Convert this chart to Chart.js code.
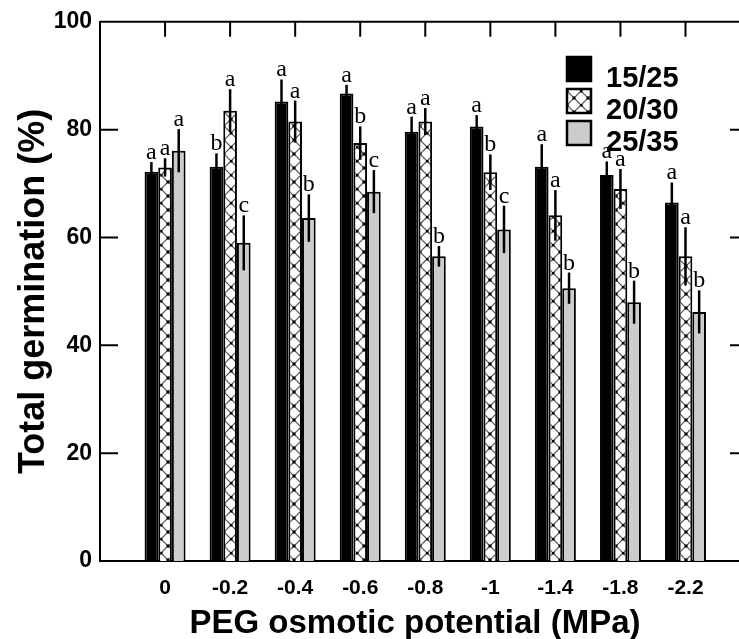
<!DOCTYPE html>
<html>
<head>
<meta charset="utf-8">
<script src="https://cdn.jsdelivr.net/npm/chart.js@4"></script>
<style>
  html, body { margin: 0; padding: 0; background: #fff; overflow: hidden; }
  #wrap { width: 739px; height: 639px; overflow: hidden; }
</style>
</head>
<body>
<div id="wrap"><canvas id="c" width="750" height="639"></canvas></div>
<script>
// PEG osmotic potential levels (MPa)
const categories = ['0', '-0.2', '-0.4', '-0.6', '-0.8', '-1', '-1.4', '-1.8', '-2.2'];
const seriesNames = ['15/25', '20/30', '25/35'];

// Total germination (%) with standard errors and significance letters
const germ1525 = [72.2, 73.1, 85.2, 86.7, 79.6, 80.6, 73.1, 71.6, 66.5];
const err1525 = [1.8, 2.5, 4.1, 1.6, 2.8, 2.1, 4.2, 2.5, 3.7];
const letters1525 = ['a', 'b', 'a', 'a', 'a', 'a', 'a', 'a', 'a'];

const germ2030 = [73.0, 83.5, 81.5, 77.5, 81.5, 72.1, 64.1, 69.0, 56.5];
const err2030 = [1.7, 4.0, 3.9, 3.1, 2.5, 3.3, 4.7, 3.7, 5.4];
const letters2030 = ['a', 'a', 'a', 'b', 'a', 'b', 'a', 'a', 'a'];

const germ2535 = [76.1, 59.0, 63.6, 68.5, 56.5, 61.5, 50.6, 48.0, 46.2];
const err2535 = [4.0, 5.1, 4.4, 4.0, 1.9, 4.4, 2.9, 4.0, 4.0];
const letters2535 = ['a', 'c', 'b', 'c', 'b', 'c', 'b', 'b', 'b'];

const yTicks = [0, 20, 40, 60, 80, 100];
const innerTicks = [20, 40, 60, 80];

// checkered fill for the middle series
function makeCheck() {
  const t = document.createElement('canvas');
  t.width = 14; t.height = 14;
  const g = t.getContext('2d');
  g.fillStyle = '#fff';
  g.fillRect(0, 0, 14, 14);
  g.strokeStyle = '#555';
  g.lineWidth = 1.2;
  g.beginPath();
  g.moveTo(0, 0); g.lineTo(7, 7); g.lineTo(0, 14);
  g.moveTo(14, 0); g.lineTo(7, 7); g.lineTo(14, 14);
  g.stroke();
  g.fillStyle = '#000';
  g.fillRect(6, 6, 2.5, 2.5);
  g.fillRect(0, 0, 1.5, 1.5); g.fillRect(12.5, 0, 1.5, 1.5);
  g.fillRect(0, 12.5, 1.5, 1.5); g.fillRect(12.5, 12.5, 1.5, 1.5);
  return document.getElementById('c').getContext('2d').createPattern(t, 'repeat');
}
const checkFill = makeCheck();

const seriesValues = [germ1525, germ2030, germ2535];
const seriesErrors = [err1525, err2030, err2535];
const seriesLetters = [letters1525, letters2030, letters2535];
const seriesFills = ['#000000', checkFill, '#cccccc'];

const datasets = seriesNames.map((name, d) => ({
  label: name,
  data: seriesValues[d].map((v, i) => ({ x: i, y: v })),
  backgroundColor: seriesFills[d],
  borderColor: '#000',
  borderWidth: 2,
  categoryPercentage: 0.63,
  barPercentage: 1.0
}));

const BOLD = '"Liberation Sans", Arial, sans-serif';

// error bars and letters
const errorBars = {
  id: 'errorBars',
  afterDatasetsDraw(chart) {
    const ctx = chart.ctx;
    const ys = chart.scales.y;
    ctx.save();
    ctx.strokeStyle = '#000';
    ctx.lineWidth = 2.5;
    ctx.fillStyle = '#000';
    ctx.font = '24px "Liberation Serif", "Times New Roman", serif';
    ctx.textAlign = 'center';
    ctx.textBaseline = 'alphabetic';
    seriesValues.forEach((vals, d) => {
      const meta = chart.getDatasetMeta(d);
      vals.forEach((v, i) => {
        const bar = meta.data[i];
        const e = seriesErrors[d][i];
        const top = ys.getPixelForValue(v + e);
        const bot = ys.getPixelForValue(v - e);
        ctx.beginPath();
        ctx.moveTo(bar.x, top);
        ctx.lineTo(bar.x, bot);
        ctx.stroke();
        ctx.fillText(seriesLetters[d][i], bar.x, top - 3);
      });
    });
    ctx.restore();
  }
};

// frame, inward ticks, x title, legend
const frame = {
  id: 'frame',
  afterDraw(chart) {
    const ctx = chart.ctx;
    const a = chart.chartArea;
    const xs = chart.scales.x, ys = chart.scales.y;
    ctx.save();
    ctx.strokeStyle = '#000';
    ctx.lineWidth = 2;
    ctx.beginPath();
    ctx.moveTo(a.left, a.top); ctx.lineTo(a.right, a.top);
    ctx.moveTo(a.right, a.top); ctx.lineTo(a.right, a.bottom);
    innerTicks.forEach(v => {
      const y = ys.getPixelForValue(v);
      ctx.moveTo(a.left, y); ctx.lineTo(a.left + 18, y);
      ctx.moveTo(a.right - 16, y); ctx.lineTo(a.right, y);
    });
    categories.forEach((c, i) => {
      const x = xs.getPixelForValue(i);
      ctx.moveTo(x, a.top); ctx.lineTo(x, a.top + 15);
    });
    ctx.stroke();

    // x axis title
    ctx.fillStyle = '#000';
    ctx.font = 'bold 33px ' + BOLD;
    ctx.textAlign = 'center';
    ctx.textBaseline = 'alphabetic';
    ctx.fillText('PEG osmotic potential (MPa)', 415, 633);

    // legend
    ctx.font = 'bold 29px ' + BOLD;
    ctx.textAlign = 'left';
    seriesNames.forEach((name, d) => {
      const by = 57 + d * 32;
      ctx.fillStyle = seriesFills[d];
      ctx.fillRect(567, by, 24, 24);
      ctx.lineWidth = 2.5;
      ctx.strokeRect(567, by, 24, 24);
      ctx.fillStyle = '#000';
      ctx.fillText(name, 606, by + 30);
    });
    ctx.restore();
  }
};

new Chart(document.getElementById('c'), {
  type: 'bar',
  data: { datasets },
  options: {
    responsive: false,
    devicePixelRatio: 1,
    animation: false,
    layout: { padding: { top: 21, right: 4, left: 0, bottom: 0 } },
    plugins: { legend: { display: false }, tooltip: { enabled: false } },
    scales: {
      x: {
        type: 'linear',
        min: -1,
        max: 8.93,
        offset: false,
        grid: { display: false, drawTicks: false },
        border: { display: true, color: '#000', width: 2 },
        afterBuildTicks: (scale) => { scale.ticks = categories.map((c, i) => ({ value: i })); },
        afterFit: (scale) => { scale.height = 78; },
        ticks: {
          autoSkip: false,
          maxRotation: 0,
          padding: 15,
          color: '#000',
          font: { family: BOLD, size: 21, weight: 'bold' },
          callback: (v) => categories[v]
        }
      },
      y: {
        min: 0,
        max: 100,
        grid: { display: false, drawTicks: false },
        border: { display: true, color: '#000', width: 2 },
        afterBuildTicks: (scale) => { scale.ticks = yTicks.map(v => ({ value: v })); },
        afterFit: (scale) => { scale.width = 100; },
        ticks: {
          padding: 8,
          color: '#000',
          font: { family: BOLD, size: 23, weight: 'bold' }
        },
        title: {
          display: true,
          text: 'Total germination (%)',
          color: '#000',
          font: { family: BOLD, size: 36, weight: 'bold' },
          padding: { top: 12, bottom: 0 }
        }
      }
    }
  },
  plugins: [errorBars, frame]
});
</script>
</body>
</html>
